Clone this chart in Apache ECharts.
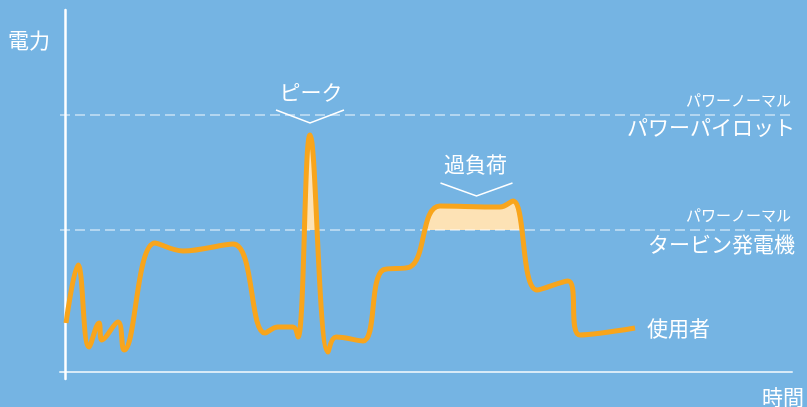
<!DOCTYPE html>
<html>
<head>
<meta charset="utf-8">
<script src="https://cdn.jsdelivr.net/npm/echarts@6/dist/echarts.min.js"></script>
<style>
  html, body { margin: 0; padding: 0; background: #75b4e3; }
  #chart { width: 807px; height: 407px; }
</style>
</head>
<body>
<div id="chart"></div>
<script>
// Time points and power demand along the day
const timeX  = [1, 13, 24, 34, 37, 53, 59, 90, 118, 168, 200, 213, 228, 233, 245, 263, 271, 298, 318, 345, 375, 435, 448, 472, 503, 515, 570];
const demand = [49, 107, 25, 49, 32, 50, 22, 129, 121, 128, 39, 45, 45, 35, 237, 20, 35, 31, 102, 105, 166, 165, 171, 82, 91, 37, 44];

// Supply levels
const turbineLevel = 142;
const pilotLevel = 257;

// Text
const axisNames = { y: '電力', x: '時間' };
const levelSmall = 'パワーノーマル';
const levelNames = { pilot: 'パワーパイロット', turbine: 'タービン発電機' };
const userName = '使用者';
const peakName = 'ピーク';
const overloadName = '過負荷';

const points = timeX.map((t, i) => [t, demand[i]]);

const FONT = '"Noto Sans CJK JP", "Noto Sans", sans-serif';
const ORANGE = '#f8a51c';
const FILL = '#fde2b5';
const CLEAR = 'rgba(0,0,0,0)';
const H = 407;

const chart = echarts.init(document.getElementById('chart'), null, { renderer: 'canvas' });

chart.setOption({
  backgroundColor: '#75b4e3',
  animation: false,
  grid: { left: 60, right: 15, top: 10, bottom: 28 },
  xAxis: {
    type: 'value', min: -5, max: 727,
    axisLine: { onZero: true, lineStyle: { color: 'rgba(255,255,255,0.72)', width: 2 } },
    axisTick: { show: false }, axisLabel: { show: false }, splitLine: { show: false }
  },
  yAxis: {
    type: 'value', min: -7, max: 362,
    axisLine: { show: true, onZero: true, lineStyle: { color: '#ffffff', width: 2.5 } },
    axisTick: { show: false }, axisLabel: { show: false }, splitLine: { show: false }
  },
  series: [
    {
      type: 'line', data: points, smooth: 0.4, symbol: 'none', z: 4,
      lineStyle: { color: ORANGE, width: 5 },
      endLabel: {
        show: true, formatter: userName, color: '#ffffff',
        fontFamily: FONT, fontSize: 21, distance: 12
      },
      markLine: {
        silent: true, symbol: 'none', z: 3,
        label: { show: false },
        lineStyle: { color: 'rgba(255,255,255,0.45)', width: 2, type: [10, 5] },
        data: [{ yAxis: pilotLevel }, { yAxis: turbineLevel }]
      }
    },
    {
      type: 'line', data: points, smooth: 0.4, symbol: 'none', z: 2,
      lineStyle: { width: 0, opacity: 0 },
      areaStyle: { origin: turbineLevel, opacity: 1, color: FILL }
    }
  ]
});

// Annotations placed from data positions
const px = (p) => chart.convertToPixel({ gridIndex: 0 }, p);
const peakIdx = demand.indexOf(Math.max(...demand));
const peakPt = px([timeX[peakIdx], demand[peakIdx]]);
const plateauPt = px([(timeX[20] + timeX[22]) / 2, demand[20]]);
const pilotY = px([0, pilotLevel])[1];
const turbineY = px([0, turbineLevel])[1];
const rightX = 793;

// Fill only the part of the demand area that rises above the turbine level
const cut = turbineY / H;
const overFill = {
  type: 'linear', x: 0, y: 0, x2: 0, y2: H, global: true,
  colorStops: [
    { offset: 0, color: FILL }, { offset: cut, color: FILL },
    { offset: cut, color: CLEAR }, { offset: 1, color: CLEAR }
  ]
};

function chevron(cx, tipY, half, depth) {
  return {
    type: 'polyline',
    shape: { points: [[cx - half, tipY - depth], [cx, tipY], [cx + half, tipY - depth]] },
    style: { stroke: '#ffffff', lineWidth: 1.5, fill: null }
  };
}
function text(str, x, y, size, align) {
  return {
    type: 'text', x: x, y: y,
    style: { text: str, fill: '#ffffff', font: size + 'px ' + FONT, align: align || 'center', verticalAlign: 'middle' }
  };
}

chart.setOption({
  series: [{}, { areaStyle: { color: overFill } }],
  graphic: [
    text(axisNames.y, 29, 40, 21),
    text(axisNames.x, 783, 397, 21),
    text(peakName, peakPt[0] + 1, peakPt[1] - 43, 21),
    chevron(peakPt[0], peakPt[1] - 12, 34, 13),
    text(overloadName, plateauPt[0] - 1, plateauPt[1] - 42, 21),
    chevron(plateauPt[0], plateauPt[1] - 10, 36, 13),
    text(levelSmall, rightX - 2, pilotY - 15, 15, 'right'),
    text(levelNames.pilot, rightX + 2, pilotY + 12, 21, 'right'),
    text(levelSmall, rightX - 2, turbineY - 15, 15, 'right'),
    text(levelNames.turbine, rightX + 2, turbineY + 14, 21, 'right')
  ]
});
</script>
</body>
</html>
